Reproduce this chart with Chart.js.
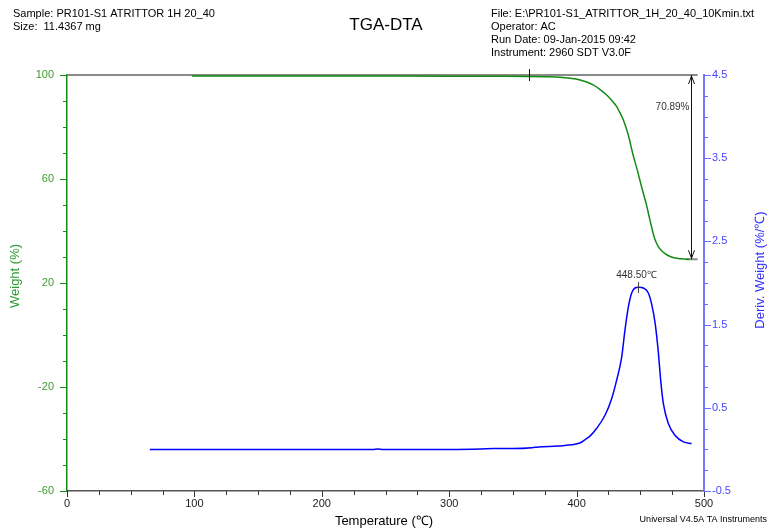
<!DOCTYPE html>
<html>
<head>
<meta charset="utf-8">
<script src="https://cdn.jsdelivr.net/npm/chart.js@4"></script>
<style>
  body { margin: 0; background: #fff; }
  #wrap { width: 770px; height: 529px; position: relative; }
</style>
</head>
<body>
<div id="wrap"><canvas id="tgaChart"></canvas></div>
<script>
// TGA-DTA chart, weight (%) and deriv. weight vs temperature

const weightTemp = [98, 150, 200, 250, 300, 340, 362, 375, 387, 395, 402.7, 408, 413, 418, 423.6, 427.5, 431.5, 434, 436.7, 440.6,
  444, 447.6, 451, 454.5, 457.6, 460.8, 462.5, 464.2, 466.5, 469.4, 473, 477.2, 482, 488.5];
const weightVal = [99.6, 99.6, 99.6, 99.58, 99.55, 99.5, 99.45, 99.35, 99.15, 98.75, 98.1, 97.3, 96.2, 94.6, 92.3, 90.3, 87.8, 85.5, 82.7, 76.9,
  69.9, 63.5, 57, 50.7, 44.2, 37.8, 35.6, 34, 32.5, 31.3, 30.3, 29.6, 29.3, 29.1];

const derivTemp = [65, 100, 150, 200, 240, 244, 248, 300, 325, 335, 350, 365, 370, 385, 392, 398, 403, 406.5, 410.5, 415.8,
  422.3, 427.5, 431.4, 435.4, 438, 440.6, 443.2, 445.8, 449, 452.4, 456.3, 459, 461.6, 464.2, 466, 468.1, 472, 477.2,
  483.8, 490.3];
const derivVal = [0, 0, 0, 0, 0, 0.005, 0, 0, 0.005, 0.01, 0.01, 0.02, 0.03, 0.04, 0.05, 0.06, 0.08, 0.115, 0.16, 0.254,
  0.41, 0.61, 0.83, 1.11, 1.44, 1.71, 1.88, 1.94, 1.95, 1.94, 1.88, 1.74, 1.52, 1.16, 0.83, 0.55, 0.31, 0.17,
  0.09, 0.07];

const xTickLabels = [0, 100, 200, 300, 400, 500];
const weightTickLabels = [-60, -20, 20, 60, 100];
const derivTickLabels = [-0.5, 0.5, 1.5, 2.5, 3.5, 4.5];

// step change & peak annotations
const stepStart = 362.5;
const stepEnd = 489.8;
const stepLoss = 70.89;
const peakTemp = 448.5;
const peakVal = 1.94;

const GREEN = "#138a13";
const GREEN_TXT = "#3f9a30";
const BLUE = "#0000ff";
const BLUE_TXT = "#4646ff";
const FONT = "'Liberation Sans', Arial, sans-serif";

const near = (a, b) => Math.abs(a - b) < 1e-6;

const extras = {
  id: "extras",
  beforeDatasetsDraw(chart) {
    const ctx = chart.ctx;
    const x = chart.scales.x, yW = chart.scales.yW;
    const yTop = yW.getPixelForValue(100);
    const yBot = yW.getPixelForValue(100 - stepLoss);
    ctx.save();
    ctx.strokeStyle = "#8a8a8a";
    ctx.lineWidth = 2;
    ctx.beginPath();
    ctx.moveTo(x.getPixelForValue(0), yTop);
    ctx.lineTo(x.getPixelForValue(495), yTop);
    ctx.moveTo(x.getPixelForValue(486), yBot);
    ctx.lineTo(x.getPixelForValue(495), yBot);
    ctx.stroke();
    ctx.restore();
  },
  afterDatasetsDraw(chart) {
    const ctx = chart.ctx;
    const x = chart.scales.x, yW = chart.scales.yW, yD = chart.scales.yD;
    ctx.save();

    const yTop = yW.getPixelForValue(100);
    const yBot = yW.getPixelForValue(100 - stepLoss);
    ctx.strokeStyle = "#111";
    ctx.lineWidth = 1;
    ctx.beginPath();
    const xs = Math.round(x.getPixelForValue(stepStart)) + 0.5;
    ctx.moveTo(xs, yTop - 6);
    ctx.lineTo(xs, yTop + 6);
    const xr = Math.round(x.getPixelForValue(stepEnd)) + 0.5;
    ctx.moveTo(xr, yTop);
    ctx.lineTo(xr, yBot);
    // arrow heads
    ctx.moveTo(xr - 3, yTop + 9);
    ctx.lineTo(xr, yTop + 1);
    ctx.lineTo(xr + 3, yTop + 9);
    ctx.moveTo(xr - 3, yBot - 9);
    ctx.lineTo(xr, yBot - 1);
    ctx.lineTo(xr + 3, yBot - 9);
    ctx.stroke();

    ctx.fillStyle = "#333";
    ctx.font = "10px " + FONT;
    ctx.textAlign = "right";
    ctx.textBaseline = "middle";
    ctx.fillText(stepLoss.toFixed(2) + "%", xr - 2, yTop + 32);

    // peak
    const px = Math.round(x.getPixelForValue(peakTemp)) + 0.5;
    const py = yD.getPixelForValue(peakVal);
    ctx.strokeStyle = "#444";
    ctx.beginPath();
    ctx.moveTo(px, py - 6);
    ctx.lineTo(px, py + 5);
    ctx.stroke();
    ctx.textAlign = "center";
    ctx.fillText(peakTemp.toFixed(2) + "℃", px - 2, py - 13);
    ctx.restore();
  },
  afterDraw(chart) {
    const ctx = chart.ctx;
    const x = chart.scales.x, yW = chart.scales.yW, yD = chart.scales.yD;
    const area = chart.chartArea;
    ctx.save();
    ctx.lineWidth = 1;

    // x ticks
    ctx.strokeStyle = "#333";
    ctx.beginPath();
    for (let v = 0; v <= 500; v += 25) {
      const p = Math.round(x.getPixelForValue(v)) + 0.5;
      const len = v % 100 === 0 ? 6 : 4;
      ctx.moveTo(p, area.bottom);
      ctx.lineTo(p, area.bottom + len);
    }
    ctx.stroke();

    // left ticks
    ctx.strokeStyle = GREEN;
    ctx.beginPath();
    for (let v = -60; v <= 100; v += 10) {
      const p = Math.round(yW.getPixelForValue(v)) + 0.5;
      const len = (v + 60) % 40 === 0 ? 7 : 4;
      ctx.moveTo(area.left - len, p);
      ctx.lineTo(area.left, p);
    }
    ctx.stroke();

    // right ticks
    ctx.strokeStyle = "#6a6aff";
    ctx.beginPath();
    for (let i = 0; i <= 20; i++) {
      const v = -0.5 + i * 0.25;
      const p = Math.round(yD.getPixelForValue(v)) + 0.5;
      const len = i % 4 === 0 ? 7 : 4;
      ctx.moveTo(area.right, p);
      ctx.lineTo(area.right + len, p);
    }
    ctx.stroke();

    // texts
    ctx.fillStyle = "#000";
    ctx.textBaseline = "middle";
    ctx.textAlign = "left";
    ctx.font = "11px " + FONT;
    ctx.fillText("Sample: PR101-S1 ATRITTOR 1H 20_40", 13, 14);
    ctx.fillText("Size:  11.4367 mg", 13, 27);
    ctx.fillText("File: E:\\PR101-S1_ATRITTOR_1H_20_40_10Kmin.txt", 491, 14);
    ctx.fillText("Operator: AC", 491, 27);
    ctx.fillText("Run Date: 09-Jan-2015 09:42", 491, 40);
    ctx.fillText("Instrument: 2960 SDT V3.0F", 491, 53);

    ctx.textAlign = "center";
    ctx.font = "17px " + FONT;
    ctx.fillText("TGA-DTA", 386, 25);

    ctx.font = "13px " + FONT;
    ctx.fillText("Temperature (℃)", 384, 521);

    ctx.textAlign = "right";
    ctx.font = "9px " + FONT;
    ctx.fillText("Universal V4.5A TA Instruments", 767, 520);

    ctx.textAlign = "center";
    ctx.font = "13px " + FONT;
    ctx.save();
    ctx.translate(15, 276);
    ctx.rotate(-Math.PI / 2);
    ctx.fillStyle = "#2e9a2e";
    ctx.fillText("Weight (%)", 0, 0);
    ctx.restore();
    ctx.save();
    ctx.translate(760, 270);
    ctx.rotate(-Math.PI / 2);
    ctx.fillStyle = "#3030ff";
    ctx.fillText("Deriv. Weight (%/℃)", 0, 0);
    ctx.restore();

    ctx.restore();
  },
};

const weightPoints = weightTemp.map((t, i) => ({ x: t, y: weightVal[i] }));
const derivPoints = derivTemp.map((t, i) => ({ x: t, y: derivVal[i] }));

const ctx = document.getElementById("tgaChart").getContext("2d");

new Chart(ctx, {
  type: "line",
  data: {
    datasets: [
      {
        label: "Weight",
        data: weightPoints,
        yAxisID: "yW",
        borderColor: GREEN,
        borderWidth: 1.5,
        pointRadius: 0,
        cubicInterpolationMode: "monotone",
        fill: false,
      },
      {
        label: "Deriv. Weight",
        data: derivPoints,
        yAxisID: "yD",
        borderColor: BLUE,
        borderWidth: 1.5,
        pointRadius: 0,
        cubicInterpolationMode: "monotone",
        fill: false,
      },
    ],
  },
  options: {
    responsive: true,
    maintainAspectRatio: false,
    animation: false,
    layout: { padding: { top: 75, left: 0, right: 0, bottom: 0 } },
    plugins: {
      legend: { display: false },
      tooltip: { enabled: false },
    },
    scales: {
      x: {
        type: "linear",
        min: 0,
        max: 500,
        grid: { display: true, drawOnChartArea: false, drawTicks: false },
        border: { display: true, color: "#555", width: 1.5 },
        ticks: {
          stepSize: 25,
          autoSkip: false,
          maxRotation: 0,
          padding: 6,
          color: "#222",
          font: { family: FONT, size: 11 },
          callback: (v) => (xTickLabels.includes(v) ? String(v) : ""),
        },
        afterFit: (s) => { s.height = 38; },
      },
      yW: {
        type: "linear",
        position: "left",
        min: -60,
        max: 100,
        grid: { display: true, drawOnChartArea: false, drawTicks: false },
        border: { display: true, color: GREEN, width: 1.5 },
        ticks: {
          stepSize: 10,
          autoSkip: false,
          padding: 13,
          color: GREEN_TXT,
          font: { family: FONT, size: 11 },
          callback: (v) => (weightTickLabels.some((t) => near(t, v)) ? String(v) : ""),
        },
        afterFit: (s) => { s.width = 67; },
      },
      yD: {
        type: "linear",
        position: "right",
        min: -0.5,
        max: 4.5,
        grid: { display: true, drawOnChartArea: false, drawTicks: false },
        border: { display: true, color: "#7676ff", width: 2 },
        ticks: {
          stepSize: 0.25,
          autoSkip: false,
          padding: 8,
          color: BLUE_TXT,
          font: { family: FONT, size: 11 },
          callback: (v) => {
            const t = derivTickLabels.find((d) => near(d, v));
            return t === undefined ? "" : t.toFixed(1);
          },
        },
        afterFit: (s) => { s.width = 66; },
      },
    },
  },
  plugins: [extras],
});
</script>
</body>
</html>
